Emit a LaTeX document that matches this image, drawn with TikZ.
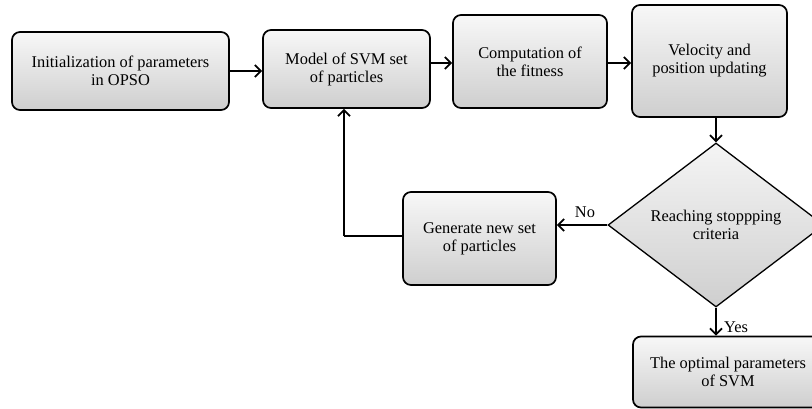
\documentclass[tikz,border=0pt]{standalone}
\usepackage{fontspec}
\setmainfont{Liberation Serif}
\usetikzlibrary{positioning,shapes.geometric,arrows.meta}

\begin{document}
\begin{tikzpicture}[x=1pt,y=1pt,
  box/.style={rectangle, rounded corners=8pt, draw, line width=1.7pt,
    top color=gray!6, bottom color=gray!38, align=center,
    font=\fontsize{16.4}{18}\selectfont, inner sep=0pt},
  test/.style={diamond, draw, line width=1.3pt, top color=gray!8,
    bottom color=gray!38, align=center, font=\fontsize{16.4}{18}\selectfont,
    inner sep=0pt, minimum width=216pt, minimum height=164pt},
  arr/.style={line width=1.6pt, -{Straight Barb[length=6pt,width=12pt,line width=1.8pt]}},
  lbl/.style={font=\fontsize{16.4}{18}\selectfont, inner sep=0pt}]
  \useasboundingbox (0,0) rectangle (812,-408);

  % Top row
  \node[box, minimum width=217pt, minimum height=78pt] (init) at (120.5,-71) {Initialization of parameters\\in OPSO};
  \node[box, minimum width=167pt, minimum height=78pt] (model) at (346.5,-69) {Model of SVM set\\of particles};
  \node[box, minimum width=154pt, minimum height=93pt] (fit) at (530,-61.5) {Computation of\\the fitness};
  \node[box, minimum width=155pt, minimum height=112pt] (vel) at (709.5,-61) {Velocity and\\position updating};
  \draw[arr] (init.east) -- (model.west |- init.east);
  \draw[arr] (model.east |- 0,-63) -- (fit.west |- 0,-63);
  \draw[arr] (fit.east |- 0,-63) -- (vel.west |- 0,-63);

  % Decision and loop back
  \node[test] (stop) at (716,-225) {Reaching stoppping\\criteria};
  \node[box, minimum width=153pt, minimum height=93pt] (gen) at (479.5,-238.5) {Generate new set\\of particles};
  \draw[arr] (stop.north |- vel.south) -- (stop.north);
  \draw[arr] (stop.west) -- (gen.east |- stop.west);
  \node[lbl] (no) at (585,-212) {No};
  \coordinate (turn) at (344,-236);
  \draw[line width=1.6pt] (gen.west |- turn) -- (turn);
  \draw[arr] (turn) -- (turn |- model.south);

  % Result
  \node[box, minimum width=190pt, minimum height=71pt] (opt) at (728,-372) {The optimal parameters\\of SVM};
  \draw[arr] (stop.south) -- (opt.north -| stop.south);
  \node[lbl] (yes) at (736,-327) {Yes};
\end{tikzpicture}
\end{document}
